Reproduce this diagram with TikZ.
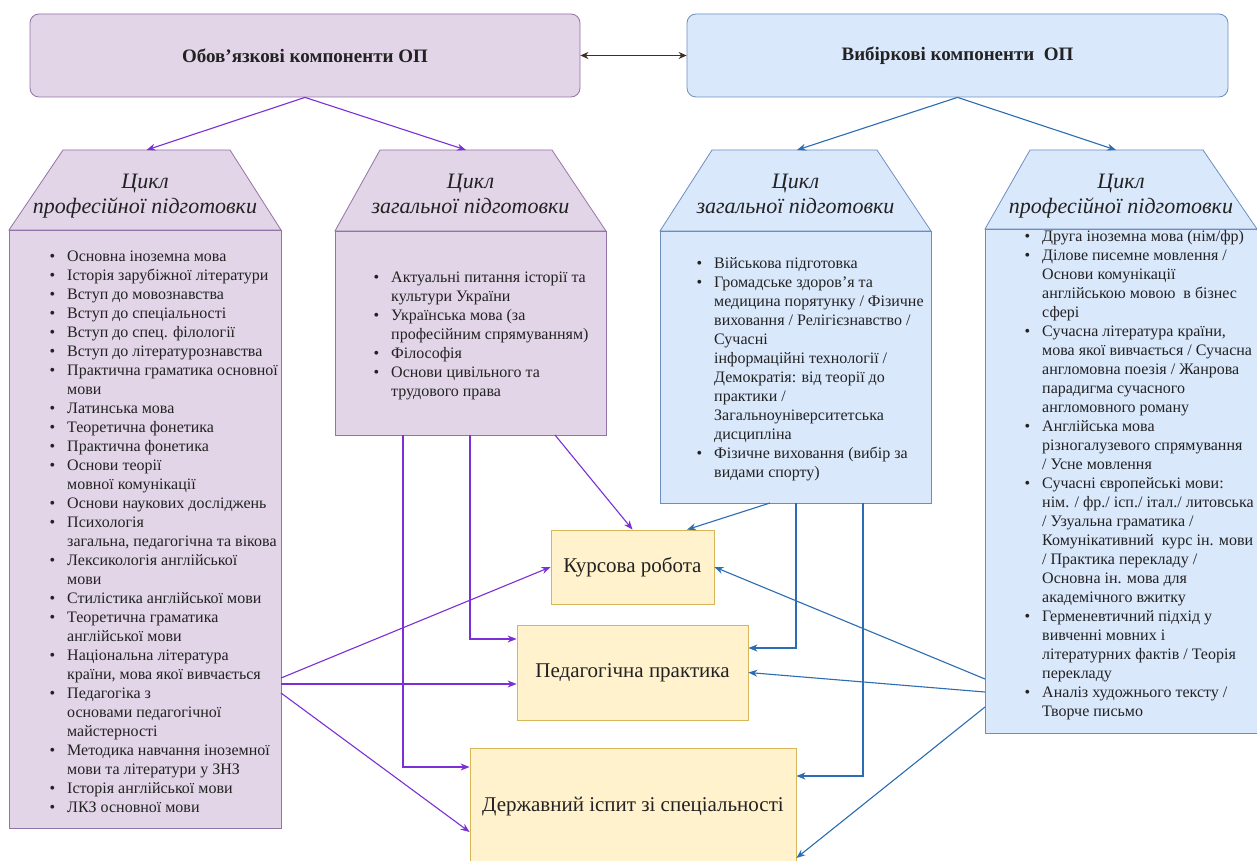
\documentclass[tikz,border=0pt]{standalone}
\usepackage{fontspec}
\newfontfamily\diagfont{Liberation Serif}
\usetikzlibrary{arrows.meta}

\definecolor{lilacfill}{HTML}{E1D5E7}
\definecolor{lilacline}{HTML}{9673A6}
\definecolor{skyfill}{HTML}{DAE8FC}
\definecolor{skyline}{HTML}{6C8EBF}
\definecolor{sandfill}{HTML}{FFF2CC}
\definecolor{sandline}{HTML}{D6B656}
\definecolor{violetarr}{HTML}{7B2FD6}
\definecolor{bluearr}{HTML}{2B6CB3}
\definecolor{brownarr}{HTML}{3F2F1F}
\definecolor{textdark}{HTML}{222222}

\newcommand{\bl}{\strut\llap{\textbullet\hspace{12pt}}}

\tikzset{
  titlebox/.style={rounded corners=9pt, line width=.8pt, minimum width=#1, minimum height=83pt,
    font=\diagfont\fontsize{19}{22}\selectfont\bfseries},
  lilac/.style={fill=lilacfill, draw=lilacline, line width=.8pt},
  sky/.style={fill=skyfill, draw=skyline, line width=.8pt},
  listbox/.style={anchor=north west, minimum width=#1, inner sep=0pt},
  cyclehead/.style={align=center, font=\diagfont\fontsize{22}{25}\selectfont\itshape},
  itemlist/.style={anchor=north west, align=left, inner sep=0pt, font=\diagfont\fontsize{16}{19}\selectfont},
  resultbox/.style={fill=sandfill, draw=sandline, line width=.8pt, font=\diagfont\fontsize{21}{24}\selectfont},
  vline/.style={violetarr, line width=1.1pt, -{Stealth[length=9pt,width=7pt]}},
  bline/.style={bluearr, line width=1.1pt, -{Stealth[length=9pt,width=7pt]}}
}

\begin{document}
\begin{tikzpicture}[x=1pt,y=-1pt,text=textdark,font=\diagfont]
  \useasboundingbox[fill=white] (0,0) rectangle (1257,861);

  % top level
  \node[titlebox=550pt, lilac] (obov) at (305,55.5) {Обов’язкові компоненти ОП};
  \node[titlebox=541pt, sky] (vyb) at (957.5,55.5) {Вибіркові компоненти \ ОП};
  \draw[brownarr, line width=1.1pt, {Stealth[length=8pt,width=7pt]}-{Stealth[length=8pt,width=7pt]}] (obov.east) -- (vyb.west);

  % cycles
  \filldraw[lilac] (63,150) -- (230,150) -- (281,230) -- (9,230) -- cycle;
  \node[listbox=272pt, minimum height=598pt, lilac] (lpBox) at (9,230) {};
  \coordinate (lpTop) at (146.5,150);
  \node[cyclehead] (lpHead) at (145,196) {\strut Цикл\\\strut професійної підготовки};

  \filldraw[lilac] (380,150) -- (552,150) -- (606,231) -- (335,231) -- cycle;
  \node[listbox=271pt, minimum height=204pt, lilac] (lzBox) at (335,231) {};
  \coordinate (lzTop) at (466,150);
  \node[cyclehead] (lzHead) at (470.5,196) {\strut Цикл\\\strut загальної підготовки};

  \filldraw[sky] (712,150) -- (877,150) -- (931,231) -- (660,231) -- cycle;
  \node[listbox=271pt, minimum height=272pt, sky] (vzBox) at (660,231) {};
  \coordinate (vzTop) at (797,150);
  \node[cyclehead] (vzHead) at (795.5,196) {\strut Цикл\\\strut загальної підготовки};

  \filldraw[sky] (1030,150) -- (1203,150) -- (1257,229) -- (985,229) -- cycle;
  \node[listbox=272pt, minimum height=504pt, sky] (vpBox) at (985,229) {};
  \coordinate (vpTop) at (1116,150);
  \node[cyclehead] (vpHead) at (1121,196) {\strut Цикл\\\strut професійної підготовки};

  \draw[vline] (obov.south) -- (lpTop);
  \draw[vline] (obov.south) -- (lzTop);
  \draw[bline] (vyb.south) -- (vzTop);
  \draw[bline] (vyb.south) -- (vpTop);

  % lists
  \node[itemlist] (lpList) at (67,247.7) {\bl Основна іноземна мова\\\bl Історія зарубіжної літератури\\
    \bl Вступ до мовознавства\\\bl Вступ до спеціальності\\\bl Вступ до спец. філології\\
    \bl Вступ до літературознавства\\\bl Практична граматика основної\\\strut мови\\
    \bl Латинська мова\\\bl Теоретична фонетика\\\bl Практична фонетика\\
    \bl Основи теорії\\\strut мовної комунікації\\\bl Основи наукових досліджень\\
    \bl Психологія\\\strut загальна, педагогічна та вікова\\\bl Лексикологія англійської\\\strut мови\\
    \bl Стилістика англійської мови\\\bl Теоретична граматика\\\strut англійської мови\\
    \bl Національна література\\\strut країни, мова якої вивчається\\
    \bl Педагогіка з\\\strut основами педагогічної\\\strut майстерності\\
    \bl Методика навчання іноземної\\\strut мови та літератури у ЗНЗ\\
    \bl Історія англійської мови\\\bl ЛКЗ основної мови};

  \node[itemlist] (lzList) at (391,268.7) {\bl Актуальні питання історії та\\\strut культури України\\
    \bl Українська мова (за\\\strut професійним спрямуванням)\\\bl Філософія\\
    \bl Основи цивільного та\\\strut трудового права};

  \node[itemlist] (vzList) at (714,254.7) {\bl Військова підготовка\\\bl Громадське здоров’я та\\
    \strut медицина порятунку / Фізичне\\\strut виховання / Релігієзнавство /\\\strut Сучасні\\
    \strut інформаційні технології /\\\strut Демократія: від теорії до\\\strut практики /\\
    \strut Загальноуніверситетська\\\strut дисципліна\\\bl Фізичне виховання (вибір за\\\strut видами спорту)};

  \node[itemlist] (vpList) at (1042,227.7) {\bl Друга іноземна мова (нім/фр)\\
    \bl Ділове писемне мовлення /\\\strut Основи комунікації\\\strut англійською мовою \ в бізнес\\\strut сфері\\
    \bl Сучасна література країни,\\\strut мова якої вивчається / Сучасна\\\strut англомовна поезія / Жанрова\\
    \strut парадигма сучасного\\\strut англомовного роману\\
    \bl Англійська мова\\\strut різногалузевого спрямування\\\strut / Усне мовлення\\
    \bl Сучасні європейські мови:\\\strut нім. / фр./ ісп./ італ./ литовська\\\strut / Узуальна граматика /\\
    \strut Комунікативний \ курс ін. мови\\\strut / Практика перекладу /\\\strut Основна ін. мова для\\
    \strut академічного вжитку\\
    \bl Герменевтичний підхід у\\\strut вивченні мовних і\\\strut літературних фактів / Теорія\\\strut перекладу\\
    \bl Аналіз художнього тексту /\\\strut Творче письмо};

  % results
  \node[resultbox, minimum width=163pt, minimum height=74pt] (kurs) at (632.5,567) {Курсова робота};
  \node[resultbox, minimum width=231pt, minimum height=95pt] (ped) at (632.5,672.5) {Педагогічна практика};
  \node[resultbox, minimum width=326pt, minimum height=118pt] (derzh) at (633,807) {Державний іспит зі спеціальності};

  % purple links
  \coordinate (lpA) at (281,678);
  \coordinate (lpB) at (281,684);
  \coordinate (lpC) at (281,693);
  \coordinate (lzA) at (403,435);
  \coordinate (lzB) at (470,435);
  \coordinate (lzC) at (555,435);
  \draw[vline] (lpA) -- (kurs.west);
  \draw[vline] (lpB) -- (ped.west |- lpB);
  \draw[vline] (lpC) -- ([yshift=-25pt]derzh.west);
  \draw[vline] (lzA) |- ([yshift=40pt]derzh.west);
  \draw[vline] (lzB) |- ([yshift=33.5pt]ped.west);
  \draw[vline] (lzC) -- (kurs.north);

  % blue links
  \coordinate (vzA) at (770,503);
  \coordinate (vzB) at (796,503);
  \coordinate (vzC) at (863,503);
  \coordinate (vpA) at (985,679);
  \coordinate (vpB) at (985,692);
  \coordinate (vpC) at (985,707);
  \draw[bline] (vzA) -- ([xshift=54.5pt]kurs.north);
  \draw[bline] (vzB) |- ([yshift=24.5pt]ped.east);
  \draw[bline] (vzC) |- ([yshift=31pt]derzh.east);
  \draw[bline] (vpA) -- (kurs.east);
  \draw[bline] (vpB) -- (ped.east);
  \draw[bline] (vpC) -- ([yshift=-51pt]derzh.east);
\end{tikzpicture}
\end{document}
